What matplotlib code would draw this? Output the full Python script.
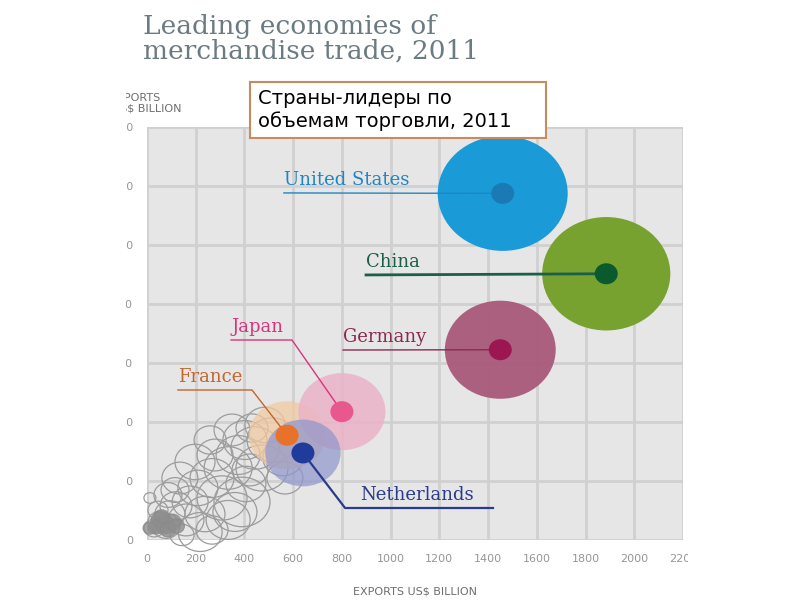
import numpy as np
import matplotlib
matplotlib.use('Agg')
import matplotlib.pyplot as plt
from matplotlib.patches import Ellipse, Rectangle

# leading economies: exports / imports (US$ bn), total trade sets bubble area
countries = ['United States', 'China', 'Germany', 'Japan', 'France', 'Netherlands']
exports = [1460, 1885, 1450, 800, 575, 640]
imports = [2350, 1805, 1290, 870, 710, 590]
trade = [3745, 3640, 2725, 1680, 1310, 1260]

# the other economies (grey rings)
grey_exports = [513, 443, 374, 472, 558, 333, 267, 406, 209, 308, 177, 119, 238, 160, 94,
                53, 78, 29, 12, 390, 333, 218, 349, 431, 279, 135, 86, 267, 144, 45,
                484, 402, 197, 259, 566, 361, 115, 423]
grey_imports = [678, 624, 576, 488, 556, 488, 420, 380, 353, 285, 258, 231, 176, 136, 176,
                122, 95, 81, 285, 258, 136, 54, 746, 759, 576, 420, 305, 68, 34, 203,
                780, 678, 529, 678, 420, 190, 339, 475]
grey_trade = [554, 511, 429, 599, 355, 511, 429, 355, 355, 554, 287, 227, 355, 287, 200,
              128, 174, 89, 32, 695, 429, 429, 287, 227, 287, 287, 174, 227, 128, 89,
              355, 429, 355, 227, 287, 429, 174, 287]

# tiny economies piled up near the origin
small_exports = [53, 74, 37, 103, 86, 12, 120, 60]
small_imports = [136, 102, 88, 122, 68, 81, 95, 160]
small_trade = [72, 89, 57, 72, 57, 43, 60, 50]

x_ticks = list(range(0, 2201, 200))
y_ticks = list(range(0, 2801, 400))

bubble_colors = ['#1a9bd7', '#78a22f', '#a9597a', '#eab3c7', '#f2c9a2', '#8f97cc']
bubble_alpha = [1.0, 1.0, 0.95, 0.85, 0.75, 0.72]
dot_colors = ['#1b79b3', '#0b5a2d', '#9c1752', '#e8578e', '#e8722a', '#1f3b9b']
text_colors = ['#1f86c2', '#1c5e48', '#8b2b52', '#d8337f', '#c2662f', '#2b3b8c']
line_widths = [1.0, 2.0, 1.0, 1.0, 1.0, 1.6]
# label layout: text left x, leader y, elbow x (None = straight)
label_x = [562, 899, 805, 345, 127, 874]
label_y = [2353, 1797, 1288, 1356, 1017, 217]
elbow_x = [None, None, None, 595, 431, 813]
line_end = [None, None, None, None, None, 1420]

fig = plt.figure(figsize=(8, 6), dpi=100)
ax = fig.add_axes([147 / 800, 60 / 600, 536 / 800, 413 / 600])
ax.set_xlim(0, 2200)
ax.set_ylim(0, 2800)
ax.set_facecolor('#e6e6e6')
for s in ax.spines.values():
    s.set_visible(False)
ax.set_xticks(x_ticks)
ax.set_yticks(y_ticks)
ax.tick_params(length=0, labelsize=8, labelcolor='#969696', pad=10)
ax.grid(True, color='#d0d0d0', linewidth=2)
ax.set_axisbelow(True)

px_x = 536 / 2200
px_y = 413 / 2800
k = 1.062


def bubble(x, y, t, **kw):
    rx = k * np.sqrt(t)
    e = Ellipse((x, y), 2 * rx / px_x, 2 * rx * 0.885 / px_y, **kw)
    ax.add_patch(e)


for x, y, t in zip(grey_exports, grey_imports, grey_trade):
    bubble(x, y, t, facecolor='none', edgecolor='#9c9c9c', linewidth=0.9, clip_on=False, zorder=2)
for x, y, t in zip(small_exports, small_imports, small_trade):
    bubble(x, y, t, facecolor='#8e8e8e', edgecolor='#8a8a8a', alpha=0.8, linewidth=0.8,
           clip_on=False, zorder=2)

order = [4, 3, 5, 2, 0, 1]
for i in order:
    bubble(exports[i], imports[i], trade[i], facecolor=bubble_colors[i], alpha=bubble_alpha[i],
           edgecolor='none', zorder=3)

for i in range(len(countries)):
    ax.add_patch(Ellipse((exports[i], imports[i]), 23 / px_x, 21 / px_y,
                         facecolor=dot_colors[i], edgecolor='none', zorder=5))
    # leader line
    if elbow_x[i] is None:
        xs = [label_x[i], exports[i]]
        ys = [label_y[i], imports[i]]
    elif line_end[i] is None:
        xs = [label_x[i], elbow_x[i], exports[i]]
        ys = [label_y[i], label_y[i], imports[i]]
    else:
        xs = [exports[i], elbow_x[i], line_end[i]]
        ys = [imports[i], label_y[i], label_y[i]]
    ax.plot(xs, ys, color=text_colors[i], linewidth=line_widths[i], zorder=4)
    ax.annotate(countries[i], (label_x[i], label_y[i]), xytext=(0, 3), textcoords='offset points',
                ha='left', va='bottom', fontsize=13, color=text_colors[i],
                family='DejaVu Serif', zorder=6)

ax.set_xlabel('EXPORTS US$ BILLION', fontsize=8, color='#6e6e6e', labelpad=16)

fig.text(112 / 800, 1 - 103 / 600, 'IMPORTS\nUS$ BILLION', fontsize=8, color='#6e6e6e',
         ha='left', va='center', linespacing=1.1)

fig.text(143 / 800, 1 - 14 / 600, 'Leading economies of\nmerchandise trade, 2011',
         fontsize=19, color='#6b7b82', family='DejaVu Serif', ha='left', va='top',
         linespacing=1.0)

# callout box with the Russian caption
fig.patches.append(Rectangle((250 / 800, 1 - 138 / 600), 296 / 800, 56 / 600,
                             transform=fig.transFigure, facecolor='white',
                             edgecolor='#c98a5e', linewidth=1.5, zorder=20))
fig.text(258 / 800, 1 - 110 / 600, 'Страны-лидеры по\nобъемам торговли, 2011',
         fontsize=14, color='black', ha='left', va='center', linespacing=1.15, zorder=21)

# slide crops the chart picture on both sides
fig.patches.append(Rectangle((0, 0), 126 / 800, 1, transform=fig.transFigure,
                             facecolor='white', edgecolor='none', zorder=15))
fig.patches.append(Rectangle((688 / 800, 0), 112 / 800, 1, transform=fig.transFigure,
                             facecolor='white', edgecolor='none', zorder=15))

fig.savefig('out.png', dpi=100)
